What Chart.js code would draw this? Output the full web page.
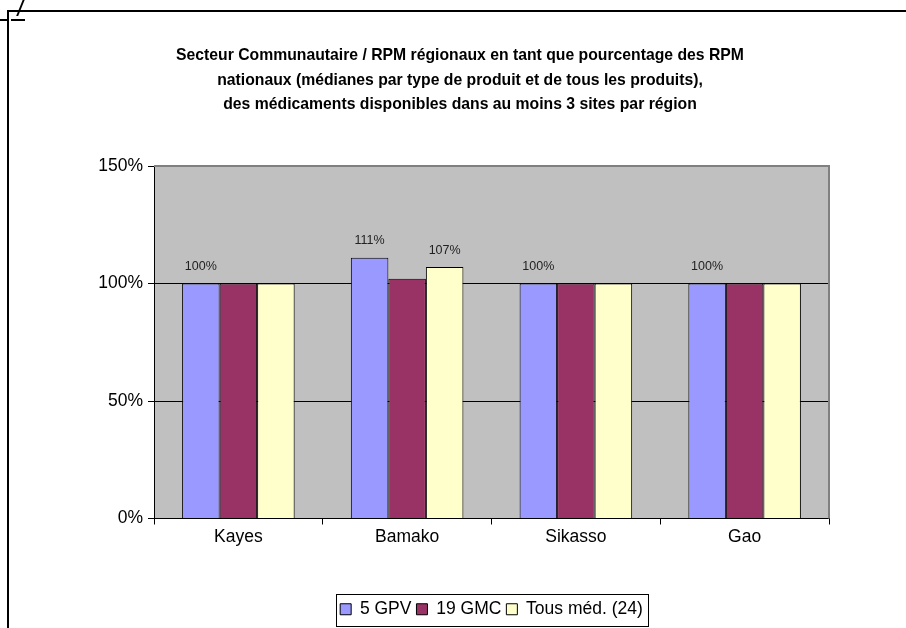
<!DOCTYPE html>
<html>
<head>
<meta charset="utf-8">
<script src="https://cdn.jsdelivr.net/npm/chart.js@4"></script>
<style>
    body { margin: 0; background: #ffffff; }
    #frame { position: absolute; left: 7px; top: 10px; width: 920px; height: 640px; border-left: 2px solid #000; border-top: 2px solid #000; }
    .dash { position: absolute; height: 0; border-top: 2px solid #000; }
    #slash { position: absolute; left: 20px; top: -3px; width: 2px; height: 19px; background: #000; transform: skewX(-22deg); }
    #chart-wrap { position: absolute; left: 0; top: 0; }
</style>
</head>
<body>
<div id="frame"></div>
<div class="dash" style="left:0px; top:19px; width:8px;"></div>
<div class="dash" style="left:11px; top:19px; width:14px;"></div>
<div id="slash"></div>
<div id="chart-wrap"><canvas id="barchart-regions" width="906" height="628"></canvas></div>
<script>
let regions = ['Kayes', 'Bamako', 'Sikasso', 'Gao'];
let gpvValues = [100, 111, 100, 100];
let gmcValues = [100, 102, 100, 100];
let tousValues = [100, 107, 100, 100];
let gpvLabels = ['100%', '111%', '100%', '100%'];
let gmcLabels = [null, null, null, null];
let tousLabels = [null, '107%', null, null];
let titleLines = [
    'Secteur Communautaire / RPM régionaux en tant que pourcentage des RPM',
    'nationaux (médianes par type de produit et de tous les produits),',
    'des médicaments disponibles dans au moins 3 sites par région'
];

let fontName = '"Liberation Sans", Arial, sans-serif';

// gray plot area + gray border on top/right
let plotAreaPlugin = {
    id: 'plotArea',
    beforeDraw: function (chart) {
        let ctx = chart.ctx;
        let a = chart.chartArea;
        ctx.save();
        ctx.fillStyle = '#c0c0c0';
        ctx.fillRect(a.left, a.top, a.right - a.left, a.bottom - a.top);
        ctx.restore();
    },
    afterDatasetsDraw: function (chart) {
        let ctx = chart.ctx;
        let a = chart.chartArea;
        ctx.save();
        ctx.strokeStyle = '#808080';
        ctx.lineWidth = 2;
        ctx.beginPath();
        ctx.moveTo(a.left, a.top);
        ctx.lineTo(a.right, a.top);
        ctx.lineTo(a.right, a.bottom);
        ctx.stroke();
        ctx.restore();
    }
};

// value labels above bars
let valueLabelPlugin = {
    id: 'valueLabels',
    afterDatasetsDraw: function (chart) {
        let ctx = chart.ctx;
        ctx.save();
        ctx.font = '12.5px ' + fontName;
        ctx.fillStyle = '#222222';
        ctx.textAlign = 'center';
        ctx.textBaseline = 'middle';
        chart.data.datasets.forEach((ds, i) => {
            let meta = chart.getDatasetMeta(i);
            meta.data.forEach((bar, j) => {
                let txt = ds.valueLabels[j];
                if (txt) {
                    ctx.fillText(txt, bar.x, bar.y - 17);
                }
            });
        });
        ctx.restore();
    }
};

// box around the legend
let legendBoxPlugin = {
    id: 'legendBox',
    afterDraw: function (chart) {
        let boxes = chart.legend.legendHitBoxes;
        if (!boxes || !boxes.length) return;
        let first = boxes[0];
        let last = boxes[boxes.length - 1];
        let left = first.left - 4;
        let right = last.left + last.width + 5;
        let top = first.top - 7;
        let bottom = first.top + first.height + 7;
        let ctx = chart.ctx;
        ctx.save();
        ctx.strokeStyle = '#000000';
        ctx.lineWidth = 1;
        ctx.strokeRect(Math.round(left) + 0.5, Math.round(top) + 0.5, Math.round(right - left), Math.round(bottom - top));
        ctx.restore();
    }
};

let dataforChart = {
    labels: regions,
    datasets: [
        {
            label: '5 GPV',
            data: gpvValues,
            valueLabels: gpvLabels,
            backgroundColor: '#9999ff',
            borderColor: '#000000',
            borderWidth: 1
        },
        {
            label: '19 GMC',
            data: gmcValues,
            valueLabels: gmcLabels,
            backgroundColor: '#993366',
            borderColor: '#000000',
            borderWidth: 1
        },
        {
            label: 'Tous méd. (24)',
            data: tousValues,
            valueLabels: tousLabels,
            backgroundColor: '#ffffcc',
            borderColor: '#000000',
            borderWidth: 1
        }
    ]
};

let config = {
    type: 'bar',
    data: dataforChart,
    options: {
        responsive: false,
        animation: false,
        devicePixelRatio: 1,
        categoryPercentage: 0.667,
        barPercentage: 1.0,
        layout: {
            padding: { left: 14, right: 0, top: 0, bottom: 0 }
        },
        scales: {
            x: {
                grid: {
                    offset: true,
                    drawOnChartArea: false,
                    color: '#000000',
                    tickLength: 6
                },
                border: { color: '#000000', width: 1 },
                ticks: {
                    color: '#000000',
                    padding: 2,
                    font: { family: fontName, size: 17.5 }
                },
                afterFit: function (scale) { scale.height = 77; }
            },
            y: {
                min: 0,
                max: 150,
                grid: {
                    color: (c) => (c.tick && c.tick.value === 150) ? '#808080' : '#000000',
                    tickColor: '#000000',
                    tickLength: 6,
                    lineWidth: 1
                },
                border: { color: '#000000', width: 1 },
                ticks: {
                    stepSize: 50,
                    color: '#000000',
                    padding: 5,
                    font: { family: fontName, size: 17.5 },
                    callback: (v) => v + '%'
                },
                afterFit: function (scale) { scale.width = 140; }
            },
            yRight: {
                position: 'right',
                display: true,
                grid: { display: false },
                border: { display: false },
                ticks: { display: false },
                afterFit: function (scale) { scale.width = 77; }
            }
        },
        plugins: {
            title: {
                display: true,
                text: titleLines,
                color: '#000000',
                font: { family: fontName, size: 15.75, weight: 'bold', lineHeight: 1.556 },
                padding: { top: 43.75, bottom: 48.75 }
            },
            legend: {
                position: 'bottom',
                fullSize: false,
                labels: {
                    boxWidth: 11,
                    boxHeight: 11,
                    padding: 5,
                    color: '#000000',
                    font: { family: fontName, size: 17.5 }
                }
            },
            tooltip: { enabled: false }
        }
    },
    plugins: [plotAreaPlugin, valueLabelPlugin, legendBoxPlugin]
};

let canvas = document.getElementById('barchart-regions');
let context = canvas.getContext('2d');
let chart = new Chart(context, config);
</script>
</body>
</html>
